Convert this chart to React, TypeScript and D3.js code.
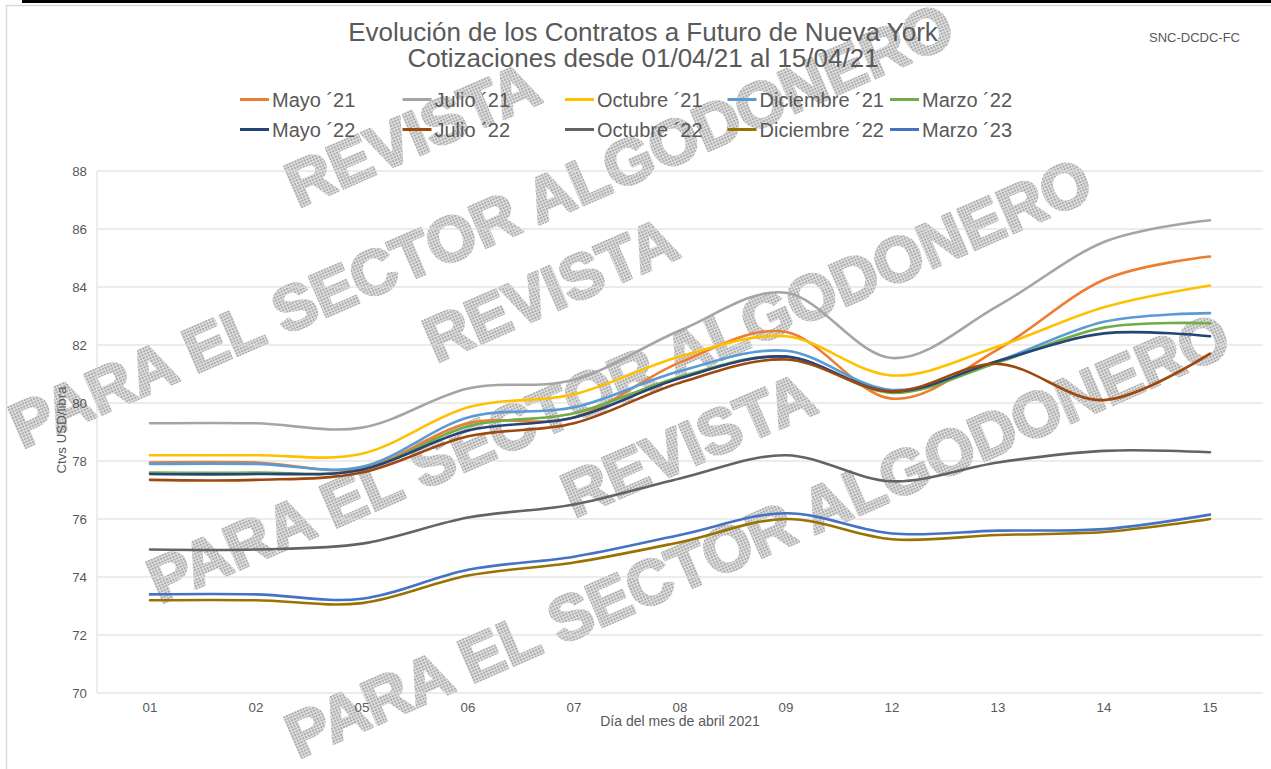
import React from 'react';
import * as d3 from 'd3';

const days = ['01', '02', '05', '06', '07', '08', '09', '12', '13', '14', '15'];
const seriesNames = ['Mayo ´21', 'Julio ´21', 'Octubre ´21', 'Diciembre ´21', 'Marzo ´22', 'Mayo ´22', 'Julio ´22', 'Octubre ´22', 'Diciembre ´22', 'Marzo ´23'];
const seriesColors = ['#ED7D31', '#A5A5A5', '#FFC000', '#5B9BD5', '#70AD47', '#264478', '#9E480E', '#636363', '#997300', '#4472C4'];

const mayo21 = [77.95, 77.95, 77.75, 79.3, 79.5, 81.4, 82.45, 80.15, 81.85, 84.25, 85.05];
const julio21 = [79.3, 79.3, 79.15, 80.5, 80.8, 82.5, 83.8, 81.55, 83.35, 85.55, 86.3];
const octubre21 = [78.2, 78.2, 78.25, 79.85, 80.3, 81.6, 82.3, 80.95, 81.95, 83.3, 84.05];
const diciembre21 = [77.9, 77.9, 77.8, 79.5, 79.85, 81.1, 81.8, 80.45, 81.45, 82.8, 83.1];
const marzo22 = [77.6, 77.6, 77.7, 79.2, 79.65, 80.9, 81.6, 80.35, 81.4, 82.6, 82.75];
const mayo22 = [77.55, 77.55, 77.7, 79.05, 79.5, 80.85, 81.6, 80.4, 81.45, 82.4, 82.3];
const julio22 = [77.35, 77.35, 77.6, 78.85, 79.3, 80.7, 81.5, 80.4, 81.35, 80.1, 81.7];
const octubre22 = [74.95, 74.95, 75.15, 76.05, 76.5, 77.4, 78.2, 77.3, 77.95, 78.35, 78.3];
const diciembre22 = [73.2, 73.2, 73.1, 74.05, 74.5, 75.2, 76.0, 75.3, 75.45, 75.55, 76.0];
const marzo23 = [73.4, 73.4, 73.25, 74.25, 74.7, 75.45, 76.2, 75.5, 75.6, 75.65, 76.15];

const seriesValues = [mayo21, julio21, octubre21, diciembre21, marzo22, mayo22, julio22, octubre22, diciembre22, marzo23];
const yTicks = [70, 72, 74, 76, 78, 80, 82, 84, 86, 88];

const titleLines = ['Evolución de los Contratos a Futuro de Nueva York', 'Cotizaciones desde 01/04/21 al 15/04/21'];
const sourceLabel = 'SNC-DCDC-FC';
const xAxisTitle = 'Día del mes de abril 2021';
const yAxisTitle = 'Ctvs USD/libra';
const watermarkA = 'REVISTA';
const watermarkB = 'PARA EL SECTOR ALGODONERO';

const W = 1271;
const H = 769;
const FONT = '"Liberation Sans", Arial, sans-serif';
const TXT = '#595959';

export default function App() {
  const x = d3.scalePoint<string>().domain(days).range([97, 1263]).padding(0.5);
  const y = d3.scaleLinear().domain([70, 88]).range([693, 171]);
  const line = d3
    .line<number>()
    .x((_, i) => x(days[i]) as number)
    .y((d) => y(d))
    .curve(d3.curveCatmullRom.alpha(0));

  const wmAngle = -23.5;
  const wmGroups = [0, 1, 2];
  const shift = [138, 155];
  const pOrigin = [22, 449];
  const rOrigin = [298, 208];

  return (
    <svg width={W} height={H} style={{ position: 'absolute', left: 0, top: 0, background: '#fff' }} fontFamily={FONT}>
      <defs>
        <pattern id="dots" patternUnits="userSpaceOnUse" width={3} height={3}>
          <rect width={3} height={3} fill="#e2e2e2" />
          <rect width={2} height={2} fill="#ababab" />
        </pattern>
      </defs>
      <rect width={W} height={H} fill="#fff" />
      <rect x={22} y={0} width={W - 22} height={3} fill="#000" />
      <path d={`M6.5,${H}V5.5H${W}`} fill="none" stroke="#d9d9d9" strokeWidth={1.5} />

      {/* watermark */}
      <g fontWeight="bold" fontSize={63} fill="url(#dots)" stroke="url(#dots)" strokeWidth={3} strokeLinejoin="round">
        {wmGroups.map((g) => (
          <g key={g}>
            <text transform={`translate(${pOrigin[0] + g * shift[0]},${pOrigin[1] + g * shift[1]}) rotate(${wmAngle})`}>{watermarkB}</text>
            <text transform={`translate(${rOrigin[0] + g * shift[0]},${rOrigin[1] + g * shift[1]}) rotate(${wmAngle})`}>{watermarkA}</text>
          </g>
        ))}
      </g>

      {/* title */}
      <g fill={TXT} textAnchor="middle" fontSize={26}>
        {titleLines.map((t, i) => (
          <text key={i} x={643} y={41 + i * 26}>{t}</text>
        ))}
      </g>
      <text x={1149} y={42} fontSize={13} fill={TXT}>{sourceLabel}</text>

      {/* legend */}
      <g fontSize={20} fill={TXT}>
        {seriesNames.map((n, i) => {
          const col = i % 5;
          const row = Math.floor(i / 5);
          const lx = 240 + col * 162.5;
          const ly = 99.5 + row * 30;
          return (
            <g key={n}>
              <line x1={lx} x2={lx + 29} y1={ly} y2={ly} stroke={seriesColors[i]} strokeWidth={3} />
              <text x={lx + 32} y={ly + 7.5}>{n}</text>
            </g>
          );
        })}
      </g>

      {/* grid */}
      <g>
        {yTicks.map((t) => (
          <line key={t} x1={97} x2={1263} y1={y(t)} y2={y(t)} stroke="#d9d9d9" strokeWidth={1} />
        ))}
        <line x1={97} x2={97} y1={y(88)} y2={y(70)} stroke="#d9d9d9" strokeWidth={1} />
      </g>
      <g fontSize={13.3} fill={TXT} textAnchor="end">
        {yTicks.map((t) => (
          <text key={t} x={87} y={y(t) + 4.5}>{t}</text>
        ))}
      </g>
      <g fontSize={13.3} fill={TXT} textAnchor="middle">
        {days.map((d) => (
          <text key={d} x={x(d)} y={712}>{d}</text>
        ))}
      </g>
      <text x={680} y={726} fontSize={14} fill={TXT} textAnchor="middle">{xAxisTitle}</text>
      <text transform="translate(66,430) rotate(-90)" fontSize={13.3} fill={TXT} textAnchor="middle">{yAxisTitle}</text>

      {/* series */}
      <g fill="none" strokeWidth={2.6} strokeLinecap="round" strokeLinejoin="round">
        {seriesValues.map((vals, i) => (
          <path key={i} d={line(vals) || ''} stroke={seriesColors[i]} />
        ))}
      </g>
    </svg>
  );
}
